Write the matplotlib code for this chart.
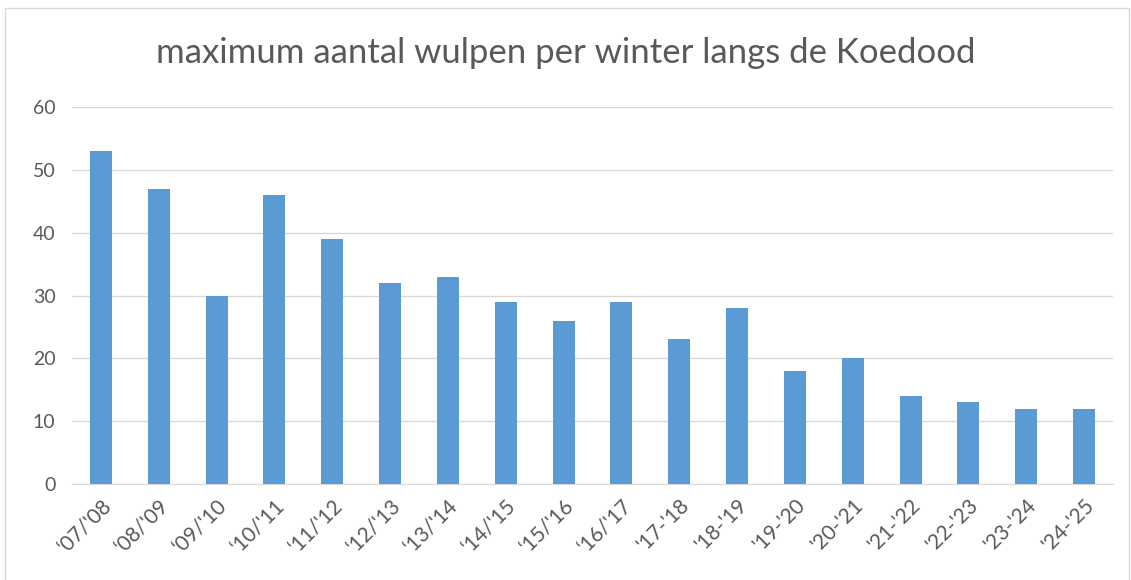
import numpy as np
import matplotlib.pyplot as plt
from matplotlib.patches import Rectangle

# Gegevens
seizoenen = ["‘07/'08", "‘08/'09", "‘09/'10", "‘10/'11", "‘11/'12", "‘12/'13",
             "‘13/'14", "‘14/'15", "‘15/'16", "‘16/'17", "'17-'18", "'18-'19",
             "'19-'20", "'20-'21", "'21-'22", "'22-'23", "'23-'24", "'24-'25"]
aantallen = [53, 47, 30, 46, 39, 32, 33, 29, 26, 29, 23, 28, 18, 20, 14, 13, 12, 12]

plt.rcParams['font.family'] = ['Lato', 'DejaVu Sans']
grijs = '#595959'

fig = plt.figure(figsize=(11.31, 5.8), dpi=100)
ax = fig.add_axes([0.0637, 0.1655, 0.9203, 0.65])

x = np.arange(len(seizoenen))
ax.bar(x, aantallen, width=0.38, color='#5B9BD5', zorder=3)

ax.set_xlim(-0.5, len(seizoenen) - 0.5)
ax.set_ylim(0, 60)
ax.set_yticks(range(0, 61, 10))
ax.yaxis.grid(True, color='#D9D9D9', linewidth=1, zorder=0)
ax.set_xticks(x)
ax.set_xticklabels(seizoenen, rotation=45, ha='right', rotation_mode='anchor')
ax.tick_params(axis='both', length=0, labelsize=14, colors=grijs)
ax.tick_params(axis='x', labelsize=15, pad=8)
ax.tick_params(axis='y', pad=12)
for kant in ['top', 'right', 'left']:
    ax.spines[kant].set_visible(False)
ax.spines['bottom'].set_color('#D9D9D9')

fig.text(0.5, 0.908, "maximum aantal wulpen per winter langs de Koedood",
         ha='center', va='center', fontsize=25, color=grijs)

# Rand om de grafiek
fig.patches.append(Rectangle((0.004, -0.01), 0.994, 0.996, transform=fig.transFigure,
                             fill=False, edgecolor='#D9D9D9', linewidth=1))

fig.savefig('out.png', dpi=100)
